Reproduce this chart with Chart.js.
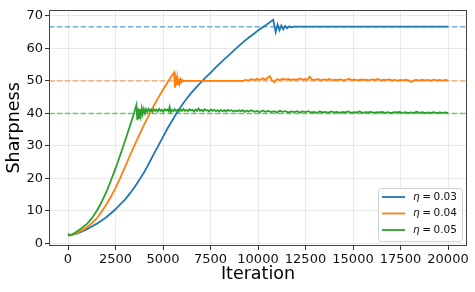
<!DOCTYPE html>
<html>
<head>
<meta charset="utf-8">
<script src="https://cdn.jsdelivr.net/npm/chart.js@4.4.1/dist/chart.umd.min.js"></script>
<style>
  html, body { margin: 0; padding: 0; background: #fff; }
</style>
</head>
<body>
<canvas id="sharpness" width="475" height="292"></canvas>
<script>
const xTicks = [0, 2500, 5000, 7500, 10000, 12500, 15000, 17500, 20000];
const yTicks = [0, 10, 20, 30, 40, 50, 60, 70];
const learningRates = ["0.03", "0.04", "0.05"];
const stableLevels = [66.67, 50, 40];
const levelSpan = [-1000, 21000];

// [iteration, sharpness]
const blueCurve = [
  [0, 2.6], [250, 2.7], [500, 3.1], [750, 3.7], [1000, 4.4], [1250, 5.2], [1500, 6.0],
  [1750, 7.0], [2000, 8.0], [2250, 9.2], [2500, 10.5], [2750, 12.0], [3000, 13.5],
  [3250, 15.3], [3500, 17.3], [3750, 19.5], [4000, 21.8], [4250, 24.5], [4500, 27.3],
  [4750, 30.0], [5000, 32.8], [5250, 35.5], [5500, 38.0], [5750, 40.4], [6000, 42.6],
  [6250, 44.6], [6500, 46.4], [6750, 48.0], [7000, 49.6], [7250, 51.1], [7500, 52.5],
  [7750, 54.0], [8000, 55.4], [8250, 56.8], [8500, 58.1], [8750, 59.5], [9000, 60.8],
  [9250, 62.1], [9500, 63.3], [9750, 64.4], [10000, 65.5], [10250, 66.5], [10500, 67.5],
  [10800, 68.8], [10930, 65.0], [11030, 67.4], [11130, 65.6], [11230, 67.1], [11330, 65.9],
  [11430, 66.9], [11540, 66.2], [11650, 66.8], [11760, 66.5], [11900, 66.7], [20000, 66.7]
];

const orangeCurve = [
  [0, 2.6], [250, 2.8], [500, 3.3], [750, 4.0], [1000, 5.0], [1250, 6.2], [1500, 7.6],
  [1750, 9.6], [2000, 11.8], [2250, 14.3], [2500, 17.0], [2750, 20.2], [3000, 23.5],
  [3250, 26.9], [3500, 30.2], [3750, 33.4], [4000, 36.5], [4250, 39.4], [4500, 42.2],
  [4750, 44.8], [5000, 47.3], [5250, 49.7], [5580, 52.6], [5630, 47.9], [5670, 51.5],
  [5710, 48.6], [5750, 51.0], [5790, 49.0], [5830, 50.7], [5870, 49.3], [5910, 50.5],
  [5960, 49.6], [6010, 50.3], [6070, 49.8], [6140, 50.1], [6250, 50.0], [9200, 50.0],
  [9350, 50.3], [9500, 50.1], [9650, 50.6], [9800, 50.2], [9950, 50.7], [10100, 50.3],
  [10250, 50.8], [10400, 50.4], [10500, 50.9], [10620, 51.5], [10750, 50.1], [10880, 49.6],
  [11000, 50.6], [11150, 50.3], [11300, 50.7], [11450, 50.4], [11600, 50.6], [11750, 50.3],
  [11900, 50.5], [12050, 50.4], [12200, 50.7], [12350, 50.4], [12500, 50.6], [12600, 50.3],
  [12720, 51.3], [12850, 50.4], [13000, 50.3], [13150, 50.6], [13300, 50.2], [13450, 50.5],
  [13600, 50.3], [13750, 50.6], [13900, 50.2], [14050, 50.4], [14200, 50.3], [14350, 50.5],
  [14500, 50.2], [14650, 50.4], [14800, 50.6], [14950, 50.3], [15100, 50.4], [15250, 50.2],
  [15400, 50.5], [15550, 50.3], [15700, 50.4], [15850, 50.2], [16000, 50.5], [16150, 50.3],
  [16300, 50.6], [16450, 50.2], [16600, 50.4], [16750, 50.3], [16900, 50.5], [17050, 50.2],
  [17200, 50.3], [17350, 50.1], [17500, 50.3], [17650, 50.2], [17800, 50.4], [17950, 50.1],
  [18070, 49.7], [18200, 50.2], [18350, 50.3], [18500, 50.1], [18650, 50.4], [18800, 50.2],
  [18950, 50.3], [19100, 50.1], [19250, 50.4], [19400, 50.2], [19550, 50.3], [19700, 50.1],
  [19850, 50.3], [20000, 50.2]
];

const greenCurve = [
  [0, 3.0], [80, 2.4], [250, 2.8], [500, 3.8], [750, 4.8], [1000, 6.0], [1250, 7.7],
  [1500, 9.9], [1750, 12.5], [2000, 15.6], [2250, 19.2], [2500, 23.0], [2750, 27.2],
  [3000, 31.5], [3250, 36.0], [3450, 39.6], [3600, 42.6],
  [3650, 37.9], [3700, 41.6], [3740, 38.6], [3780, 41.3], [3830, 39.3], [3880, 41.5],
  [3930, 39.8], [3990, 41.4], [4050, 40.1], [4110, 41.3], [4170, 40.5], [4240, 41.4],
  [4300, 40.7], [4370, 41.2], [4440, 40.5], [4510, 41.3], [4580, 40.8], [4650, 41.2],
  [4720, 40.6], [4800, 41.4], [4870, 40.8], [4940, 41.1], [5010, 40.5], [5080, 41.3],
  [5150, 40.9], [5220, 41.2], [5290, 40.7], [5350, 42.0], [5400, 40.4], [5470, 41.1],
  [5540, 40.7], [5610, 41.3], [5680, 40.8], [5760, 41.1], [5840, 40.6], [5910, 41.2],
  [5990, 40.8], [6070, 41.4], [6150, 40.8], [6230, 41.1], [6310, 40.7], [6390, 41.3],
  [6470, 40.9], [6550, 41.1], [6630, 40.6], [6710, 41.2], [6790, 40.8], [6870, 41.5],
  [6950, 40.8], [7030, 41.1], [7110, 40.7], [7190, 41.3], [7270, 40.9], [7350, 41.0],
  [7430, 40.6], [7510, 41.2], [7600, 40.8], [7690, 41.1], [7780, 40.7], [7870, 41.0],
  [7960, 40.6], [8050, 41.1], [8140, 40.7], [8230, 41.0], [8320, 40.6], [8410, 41.1],
  [8500, 40.8], [8600, 41.0], [8700, 40.6], [8800, 40.9], [8900, 40.6], [9000, 41.0],
  [9100, 40.7], [9200, 41.0], [9300, 40.5], [9400, 40.9], [9500, 40.6], [9650, 41.0],
  [9800, 40.5], [9950, 40.8], [10100, 40.4], [10250, 40.9], [10400, 40.5], [10550, 40.8],
  [10700, 40.4], [10850, 40.7], [11000, 40.3], [11150, 40.8], [11300, 40.5], [11450, 40.7],
  [11600, 40.3], [11750, 40.6], [11900, 40.4], [12050, 40.7], [12200, 40.3], [12350, 40.6],
  [12500, 40.4], [12650, 40.7], [12800, 40.3], [12950, 40.5], [13100, 40.2], [13250, 40.6],
  [13400, 40.3], [13550, 40.5], [13700, 40.2], [13850, 40.6], [14000, 40.3], [14150, 40.5],
  [14300, 40.2], [14450, 40.5], [14600, 40.3], [14750, 40.6], [14900, 40.2], [15050, 40.4],
  [15200, 40.3], [15350, 40.6], [15500, 40.2], [15650, 40.4], [15800, 40.3], [15950, 40.5],
  [16100, 40.2], [16250, 40.4], [16400, 40.3], [16550, 40.5], [16700, 40.2], [16850, 40.4],
  [17000, 40.1], [17150, 40.4], [17300, 40.3], [17450, 40.5], [17600, 40.2], [17750, 40.4],
  [17900, 40.1], [18050, 40.3], [18200, 40.2], [18350, 40.5], [18500, 40.2], [18650, 40.4],
  [18800, 40.1], [18950, 40.3], [19100, 40.2], [19250, 40.4], [19400, 40.1], [19550, 40.3],
  [19700, 40.2], [19850, 40.3], [20000, 40.2]
];

const colors = ["#1f77b4", "#ff7f0e", "#2ca02c"];
const fontFamily = "'DejaVu Sans', sans-serif";

function points(curve) {
  return curve.map(([x, y]) => ({ x, y }));
}

function hexAlpha(hex, a) {
  const n = parseInt(hex.slice(1), 16);
  return `rgba(${n >> 16}, ${(n >> 8) & 255}, ${n & 255}, ${a})`;
}

const curves = [blueCurve, orangeCurve, greenCurve];

const datasets = [];
curves.forEach((curve, i) => {
  datasets.push({
    label: learningRates[i],
    data: points(curve),
    borderColor: colors[i],
    borderWidth: 1.8,
    pointRadius: 0,
    tension: 0,
    inLegend: true,
    order: 3 - i
  });
});
stableLevels.forEach((level, i) => {
  datasets.push({
    label: "2/eta " + learningRates[i],
    data: levelSpan.map((x) => ({ x, y: level })),
    borderColor: hexAlpha(colors[i], 0.6),
    borderWidth: 1.4,
    borderDash: [5.5, 2.4],
    pointRadius: 0,
    inLegend: false,
    order: 5
  });
});

const frame = {
  id: "frame",
  afterDatasetsDraw(chart) {
    const { ctx, chartArea: a } = chart;
    ctx.save();
    ctx.strokeStyle = "#444";
    ctx.lineWidth = 1;
    ctx.strokeRect(Math.round(a.left) + 0.5, Math.round(a.top) + 0.5,
      Math.round(a.right - a.left) - 1, Math.round(a.bottom - a.top) - 1);
    ctx.restore();
  }
};

const legendBox = {
  id: "legendBox",
  afterDraw(chart) {
    const { ctx, chartArea: a } = chart;
    const items = chart.data.datasets.filter((d) => d.inLegend);
    const w = 84, rowH = 16.5, h = 53;
    const x0 = a.right - 5 - w, y0 = a.bottom - 5 - h;
    ctx.save();
    ctx.beginPath();
    ctx.roundRect(x0 + 0.5, y0 + 0.5, w, h, 3);
    ctx.fillStyle = "rgba(255,255,255,0.85)";
    ctx.fill();
    ctx.strokeStyle = "#d0d0d0";
    ctx.lineWidth = 1;
    ctx.stroke();
    items.forEach((d, i) => {
      const cy = y0 + 9 + rowH * i;
      ctx.beginPath();
      ctx.moveTo(x0 + 4, cy);
      ctx.lineTo(x0 + 27, cy);
      ctx.strokeStyle = d.borderColor;
      ctx.lineWidth = 1.8;
      ctx.stroke();
      ctx.fillStyle = "#111";
      ctx.textBaseline = "middle";
      ctx.font = `italic 10.5px ${fontFamily}`;
      let tx = x0 + 35;
      ctx.fillText("\u03b7", tx, cy);
      tx += ctx.measureText("\u03b7").width + 2.5;
      ctx.font = `10.5px ${fontFamily}`;
      ctx.fillText("=", tx, cy);
      tx += ctx.measureText("=").width + 2.5;
      ctx.fillText(d.label, tx, cy);
    });
    ctx.restore();
  }
};

const gridColor = "rgba(176,176,176,0.35)";

new Chart(document.getElementById("sharpness"), {
  type: "line",
  data: { datasets },
  options: {
    responsive: false,
    animation: false,
    devicePixelRatio: 1,
    layout: { padding: { top: 6, right: 8, left: 0, bottom: 0 } },
    plugins: { legend: { display: false }, tooltip: { enabled: false } },
    scales: {
      x: {
        type: "linear",
        min: levelSpan[0],
        max: levelSpan[1],
        afterBuildTicks: (s) => { s.ticks = xTicks.map((v) => ({ value: v })); },
        afterFit: (s) => { s.height = 46; },
        grid: { color: gridColor, lineWidth: 0.8, tickLength: 4, tickColor: "#333", tickWidth: 1 },
        border: { display: false },
        ticks: {
          font: { family: fontFamily, size: 13 },
          color: "#111",
          padding: 2,
          maxRotation: 0,
          autoSkip: false,
          callback: (v) => String(v)
        },
        title: {
          display: true,
          text: "Iteration",
          font: { family: fontFamily, size: 17.5 },
          color: "#000",
          padding: { top: 0, bottom: 7 }
        }
      },
      y: {
        type: "linear",
        min: -0.8,
        max: 71.9,
        afterBuildTicks: (s) => { s.ticks = yTicks.map((v) => ({ value: v })); },
        afterFit: (s) => { s.width = 49; },
        grid: { color: gridColor, lineWidth: 0.8, tickLength: 4, tickColor: "#333", tickWidth: 1 },
        border: { display: false },
        ticks: {
          font: { family: fontFamily, size: 13 },
          color: "#111",
          padding: 2,
          autoSkip: false,
          callback: (v) => String(v)
        },
        title: {
          display: true,
          text: "Sharpness",
          font: { family: fontFamily, size: 17.5 },
          color: "#000",
          padding: { top: 3.5, bottom: 0 }
        }
      }
    }
  },
  plugins: [frame, legendBox]
});
</script>
</body>
</html>
